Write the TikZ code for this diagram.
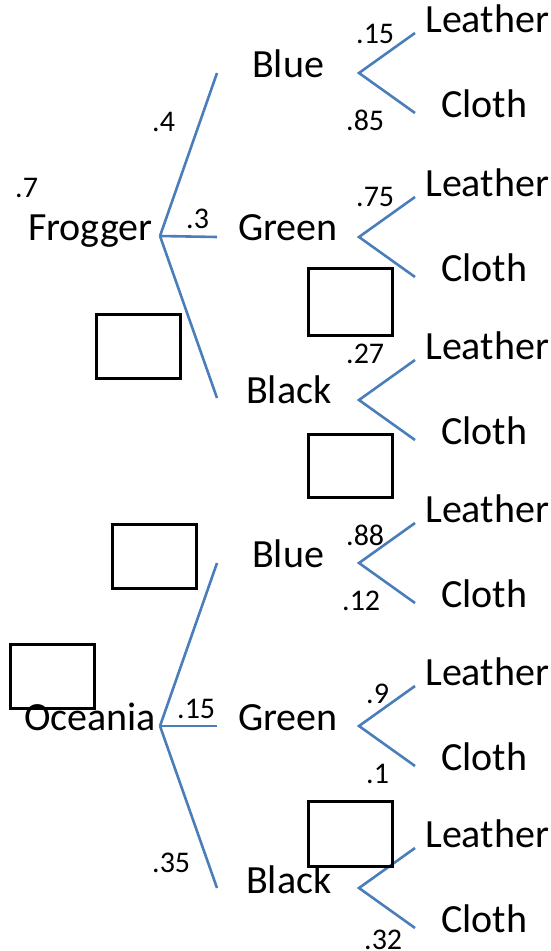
\documentclass[tikz,border=0pt]{standalone}
\usepackage{fontspec}
\setmainfont{Carlito}
\definecolor{branch}{RGB}{74,126,187}
\begin{document}
\begin{tikzpicture}[x=1pt,y=-1pt,
  lbl/.style={anchor=base west,inner sep=0pt,font=\fontsize{40}{42}\selectfont},
  prob/.style={anchor=base west,inner sep=0pt,font=\fontsize{30}{32}\selectfont},
  edge/.style={draw=branch,line width=2.6pt},
  blank/.style={draw=black,line width=3pt}]
\useasboundingbox (0,0) rectangle (551,951);

% the two roots
\coordinate (f) at (160,236);
\coordinate (o) at (160,726);
\node[lbl] (frogger) at (28,240) {Frogger};
\node[lbl] (oceania) at (24,730) {Oceania};

% first-level branches
\coordinate (f1) at (217,73);  \coordinate (f2) at (217,237); \coordinate (f3) at (217,398);
\coordinate (o1) at (217,563); \coordinate (o2) at (217,726); \coordinate (o3) at (217,888);
\foreach \a in {f1,f2,f3}{\draw[edge] (f) -- (\a);}
\foreach \a in {o1,o2,o3}{\draw[edge] (o) -- (\a);}

\node[lbl] (fblue)  at (252,77)  {Blue};
\node[lbl] (fgreen) at (238,240) {Green};
\node[lbl] (fblack) at (246,403) {Black};
\node[lbl] (oblue)  at (252,567) {Blue};
\node[lbl] (ogreen) at (238,730) {Green};
\node[lbl] (oblack) at (246,893) {Black};

% second-level forks: Leather above, Cloth below
\foreach \k/\vy in {1/73,2/237,3/400,4/563,5/726,6/888}{
  \coordinate (v\k) at (359,\vy);
  \coordinate (u\k) at (415,\vy-40);
  \coordinate (d\k) at (415,\vy+40);
  \draw[edge] (u\k) -- (v\k) -- (d\k);
  \node[lbl] (leather\k) at (425,\vy-41) {Leather};
  \node[lbl] (cloth\k)   at (441,\vy+44) {Cloth};
}

% probabilities
\node[prob] (p7)  at (15,197)  {.7};
\node[prob] (p4)  at (152,131) {.4};
\node[prob] (p3)  at (186,228) {.3};
\node[prob] (q15) at (177,718) {.15};
\node[prob] (q35) at (152,872) {.35};
\node[prob] (a15) at (356,43)  {.15};
\node[prob] (a85) at (346,130) {.85};
\node[prob] (a75) at (356,206) {.75};
\node[prob] (a27) at (346,363) {.27};
\node[prob] (b88) at (346,545) {.88};
\node[prob] (b12) at (342,610) {.12};
\node[prob] (b9)  at (366,703) {.9};
\node[prob] (b1)  at (366,783) {.1};
\node[prob] (b32) at (364,949) {.32};

% empty answer boxes
\draw[blank] (96.5,314.5) rectangle (180.5,378.5);
\draw[blank] (308.5,268.5) rectangle (392.5,335.5);
\draw[blank] (308.5,434.5) rectangle (392.5,497.5);
\draw[blank] (112.5,524.5) rectangle (196.5,588.5);
\draw[blank] (10.5,644.5) rectangle (94.5,708.5);
\draw[blank] (308.5,801.5) rectangle (392.5,866.5);
\end{tikzpicture}
\end{document}
